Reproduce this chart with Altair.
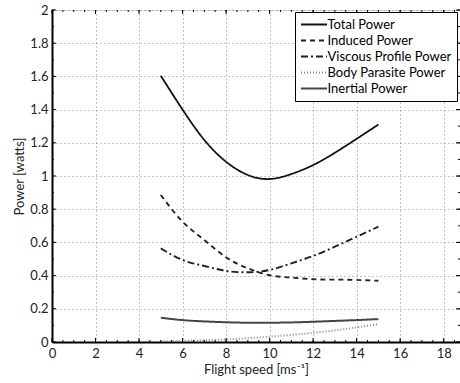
import altair as alt
import pandas as pd

# ---- data ----
speed = [5, 6, 7, 8, 9, 10, 11, 12, 13, 14, 15]
total_power = [1.604, 1.400, 1.217, 1.086, 1.006, 0.982, 1.012, 1.066, 1.140, 1.224, 1.310]
induced_power = [0.886, 0.725, 0.614, 0.510, 0.444, 0.402, 0.388, 0.378, 0.376, 0.374, 0.369]
viscous_power = [0.564, 0.494, 0.458, 0.428, 0.420, 0.434, 0.474, 0.518, 0.574, 0.634, 0.695]
parasite_power = [0.004, 0.007, 0.011, 0.016, 0.023, 0.032, 0.043, 0.055, 0.070, 0.088, 0.108]
inertial_power = [0.146, 0.132, 0.124, 0.119, 0.116, 0.116, 0.118, 0.122, 0.127, 0.132, 0.138]

series_names = ["Total Power", "Induced Power", "Viscous Profile Power",
                "Body Parasite Power", "Inertial Power"]
series_colors = ["#111111", "#222222", "#222222", "#888888", "#444444"]
series_dash = [[1, 0], [5, 4], [7, 3, 2, 3], [1, 2], [1, 0]]
series_width = [1.8, 2.0, 1.5, 1.2, 1.0]

x_major = [0, 2, 4, 6, 8, 10, 12, 14, 16, 18]
x_minor = [v / 2 for v in range(0, 38)]
y_major = [0, 0.2, 0.4, 0.6, 0.8, 1.0, 1.2, 1.4, 1.6, 1.8, 2.0]
y_minor = [v / 10 for v in range(0, 21)]

W, H = 408, 332
FONT = "Lato"

rows = []
for name, vals in zip(series_names, [total_power, induced_power, viscous_power,
                                     parasite_power, inertial_power]):
    for s, p in zip(speed, vals):
        rows.append({"speed": s, "power": p, "series": name})
df = pd.DataFrame(rows)

xscale = alt.Scale(domain=[0, 18.75], nice=False, zero=False)
yscale = alt.Scale(domain=[0, 2], nice=False)

legend = alt.Legend(
    title=None, orient="none", legendX=243, legendY=2,
    symbolType="M-2,0H2", symbolSize=169, symbolOffset=6.5,
    labelFontSize=13, labelFont=FONT,
    labelColor="black", strokeColor="black", fillColor="white", padding=5,
    rowPadding=1, labelOffset=6, cornerRadius=0, symbolStrokeColor="black",
)

axis_common = dict(grid=True, gridDash=[1, 3], gridColor="#888", tickSize=0,
                   domainColor="black", domainWidth=2, labelFontSize=13,
                   labelFont=FONT, labelColor="#222", titleFont=FONT,
                   titleFontSize=13, titleFontWeight="normal", labelFlush=False,
                   labelOverlap=False, titleColor="#222")

x_axis = alt.Axis(values=x_major, title="Flight speed [ms⁻¹]", format="d",
                  labelPadding=5, titlePadding=3, **axis_common)
y_axis = alt.Axis(values=y_major, title="Power [watts]", format="~g",
                  labelPadding=4, titlePadding=3, **axis_common)

lines = alt.Chart(df).mark_line(interpolate="natural", clip=True).encode(
    x=alt.X("speed:Q", scale=xscale, axis=x_axis),
    y=alt.Y("power:Q", scale=yscale, axis=y_axis),
    color=alt.Color("series:N", sort=series_names,
                    scale=alt.Scale(domain=series_names, range=series_colors), legend=legend),
    strokeDash=alt.StrokeDash("series:N", sort=series_names,
                              scale=alt.Scale(domain=series_names, range=series_dash), legend=legend),
    strokeWidth=alt.StrokeWidth("series:N", sort=series_names,
                                scale=alt.Scale(domain=series_names, range=series_width), legend=legend),
)

xmaj = pd.DataFrame({"t": x_major})
xmin = pd.DataFrame({"t": x_minor})
ymaj = pd.DataFrame({"t": y_major})
ymin = pd.DataFrame({"t": y_minor})

def xticks(data, length):
    bottom = alt.Chart(data).mark_rule(color="black", strokeWidth=1).encode(
        x=alt.X("t:Q", scale=xscale, axis=x_axis), y=alt.value(H - length), y2=alt.value(H))
    top = alt.Chart(data).mark_rule(color="black", strokeWidth=1).encode(
        x=alt.X("t:Q", scale=xscale, axis=x_axis), y=alt.value(0), y2=alt.value(length))
    return [bottom, top]

def yticks(data, length):
    left = alt.Chart(data).mark_rule(color="black", strokeWidth=1).encode(
        y=alt.Y("t:Q", scale=yscale, axis=y_axis), x=alt.value(0), x2=alt.value(length))
    right = alt.Chart(data).mark_rule(color="black", strokeWidth=1).encode(
        y=alt.Y("t:Q", scale=yscale, axis=y_axis), x=alt.value(W - length), x2=alt.value(W))
    return [left, right]

chart = alt.layer(
    lines, *xticks(xmin, 2), *xticks(xmaj, 4), *yticks(ymin, 2), *yticks(ymaj, 4)
).properties(
    width=W, height=H,
    autosize=alt.AutoSizeParams(type="none"),
    padding={"left": 52, "top": 10, "right": 0, "bottom": 41},
).configure_view(
    stroke="black", strokeWidth=1.5
).configure(background="white")

chart.save("out.html", embed_options={"renderer": "svg", "actions": False})
